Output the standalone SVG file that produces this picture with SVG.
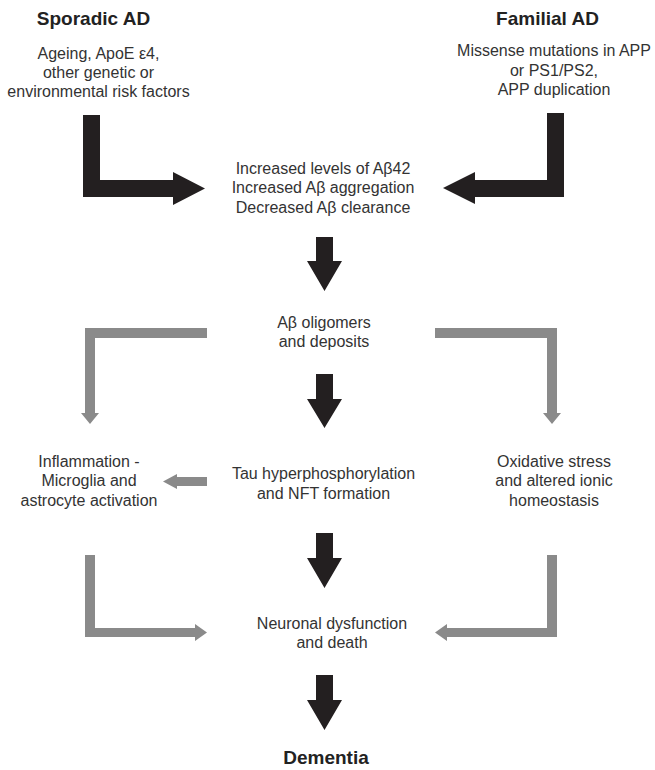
<svg xmlns="http://www.w3.org/2000/svg" width="655" height="770" viewBox="0 0 655 770">
<style>
.t{font-family:"Liberation Sans",Arial,sans-serif;font-size:16px;fill:#333;text-anchor:middle}
.h{font-family:"Liberation Sans",Arial,sans-serif;font-size:19px;font-weight:bold;fill:#222;text-anchor:middle}
.blk{fill:#231f20}
.gry{fill:#8a8a8a}
</style>
<rect width="655" height="770" fill="#fff"/>
<g id="connectors">
<polygon class="blk" points="83,115 100,115 100,180 173,180 173,172 205,188.5 173,205 173,197 83,197"/>
<polygon class="blk" points="564,113 547,113 547,180 475,180 475,172 443,188 475,204 475,197 564,197"/>
<polygon class="blk" points="316,237 333,237 333,261 342,261 324.5,291 307,261 316,261"/>
<polygon class="blk" points="316,374 333,374 333,399 342,399 324.5,428 307,399 316,399"/>
<polygon class="blk" points="316,533 333,533 333,558 342,558 324.5,588 307,558 316,558"/>
<polygon class="blk" points="316,675 333,675 333,700 342,700 324.5,730 307,700 316,700"/>
<polygon class="gry" points="207,328 207,338 95,338 95,413 99,413 90,424 81,413 85,413 85,328"/>
<polygon class="gry" points="435,328 435,338 547,338 547,413 543,413 552,424 561,413 557,413 557,328"/>
<polygon class="gry" points="207,477 207,486 177,486 177,489 163,481.5 177,474 177,477"/>
<polygon class="gry" points="85,555 95,555 95,628 195,628 195,624 207,632.5 195,641 195,637 85,637"/>
<polygon class="gry" points="557,555 547,555 547,628 447,628 447,624 435,632.5 447,641 447,637 557,637"/>
</g>
<g id="sporadic">
<text class="h" x="93.5" y="25">Sporadic AD</text>
<text class="t" x="98.5" y="59">Ageing, ApoE ε4,</text>
<text class="t" x="98.5" y="78">other genetic or</text>
<text class="t" x="98.5" y="97">environmental risk factors</text>
</g>
<g id="familial">
<text class="h" x="547.5" y="25">Familial AD</text>
<text class="t" x="554" y="56">Missense mutations in APP</text>
<text class="t" x="554" y="75.5">or PS1/PS2,</text>
<text class="t" x="554" y="95">APP duplication</text>
</g>
<g id="abeta42">
<text class="t" x="323" y="173.5">Increased levels of Aβ42</text>
<text class="t" x="323" y="193">Increased Aβ aggregation</text>
<text class="t" x="323" y="212.5">Decreased Aβ clearance</text>
</g>
<g id="oligomers">
<text class="t" x="324" y="328">Aβ oligomers</text>
<text class="t" x="324" y="347">and deposits</text>
</g>
<g id="inflammation">
<text class="t" x="89" y="466.5">Inflammation -</text>
<text class="t" x="89" y="486">Microglia and</text>
<text class="t" x="89" y="505.5">astrocyte activation</text>
</g>
<g id="tau">
<text class="t" x="323.5" y="479">Tau hyperphosphorylation</text>
<text class="t" x="323.5" y="499">and NFT formation</text>
</g>
<g id="oxidative">
<text class="t" x="554" y="466.5">Oxidative stress</text>
<text class="t" x="554" y="486">and altered ionic</text>
<text class="t" x="554" y="505.5">homeostasis</text>
</g>
<g id="neuronal">
<text class="t" x="332" y="628.5">Neuronal dysfunction</text>
<text class="t" x="332" y="648">and death</text>
</g>
<g id="dementia">
<text class="h" x="326" y="764">Dementia</text>
</g>
</svg>
